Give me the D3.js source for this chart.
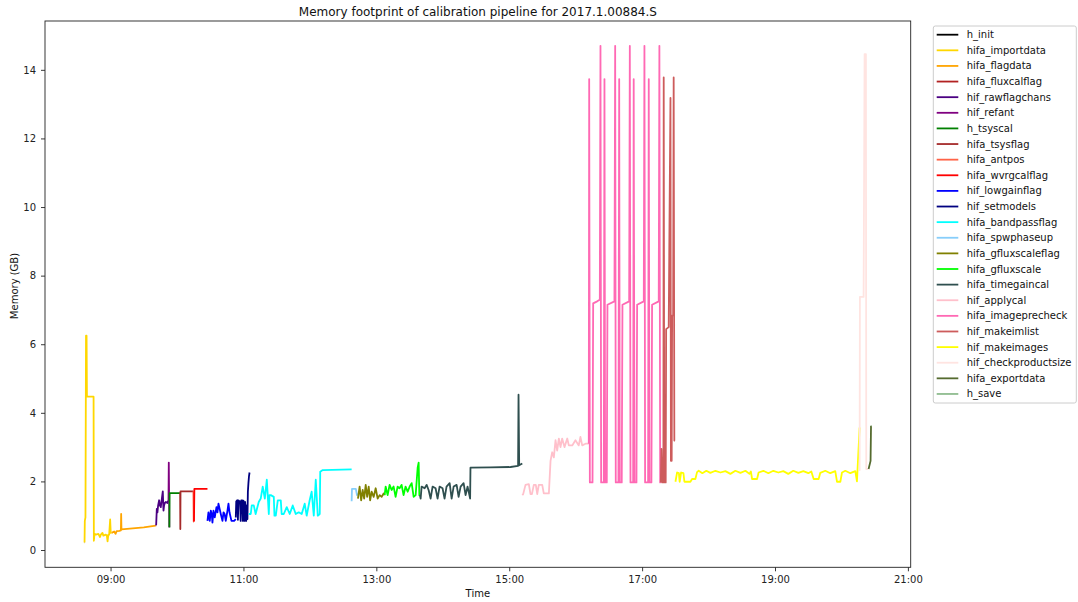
<!DOCTYPE html>
<html>
<head>
<meta charset="utf-8">
<script src="https://cdn.jsdelivr.net/npm/d3@7"></script>
<style>
  html, body { margin: 0; padding: 0; background: #fff; }
  svg { display: block; font-family: "DejaVu Sans", sans-serif; }
</style>
</head>
<body>
<svg id="chart" width="1078" height="602"></svg>
<script>
// Memory samples per pipeline stage: [time of day, memory in GB]
const h_init = [["08:36:20", 0.22], ["08:36:30", 0.22]];
const hifa_importdata = [
  ["08:36:30", 0.22], ["08:36:45", 0.85], ["08:37:20", 0.95], ["08:37:50", 6.25], ["08:38:20", 6.25],
  ["08:38:40", 4.47], ["08:44:40", 4.47], ["08:44:55", 0.27], ["08:45:30", 0.47], ["08:46:44", 0.45],
  ["08:49:00", 0.47], ["08:50:30", 0.38], ["08:51:15", 0.45], ["08:52:40", 0.5], ["08:53:30", 0.42],
  ["08:55:45", 0.45], ["08:56:40", 0.42], ["08:57:18", 0.25], ["08:58:00", 0.45], ["08:58:44", 0.45],
  ["08:59:38", 0.89], ["09:00:10", 0.5], ["09:01:00", 0.5]
];
const hifa_flagdata = [
  ["09:01:00", 0.5], ["09:03:15", 0.54], ["09:04:30", 0.47], ["09:05:30", 0.55], ["09:08:00", 0.56],
  ["09:09:20", 0.57], ["09:09:34", 1.05], ["09:09:50", 0.6], ["09:20:00", 0.63], ["09:30:00", 0.66],
  ["09:40:50", 0.71]
];
const hifa_fluxcalflag = [["09:40:50", 0.71], ["09:41:10", 0.72]];
const hif_rawflagchans = [
  ["09:41:10", 0.72], ["09:41:46", 1.2], ["09:42:20", 1.1], ["09:42:57", 1.3], ["09:43:52", 1.45],
  ["09:44:30", 1.3], ["09:45:22", 1.25], ["09:46:20", 1.5], ["09:47:10", 1.71], ["09:47:48", 1.15],
  ["09:48:20", 1.3], ["09:49:00", 1.37], ["09:50:00", 1.4], ["09:51:25", 1.37], ["09:52:19", 1.45]
];
const hif_refant = [["09:52:19", 1.45], ["09:52:35", 2.55], ["09:52:55", 1.4], ["09:53:05", 0.66]];
const h_tsyscal = [["09:53:05", 0.66], ["09:53:20", 1.66], ["10:02:50", 1.66]];
const hifa_tsysflag = [["10:02:50", 1.66], ["10:03:00", 0.61], ["10:03:10", 1.71], ["10:14:50", 1.71]];
const hifa_antpos = [["10:14:50", 1.71], ["10:15:05", 0.83], ["10:15:20", 0.83]];
const hifa_wvrgcalflag = [["10:15:20", 0.83], ["10:15:40", 1.78], ["10:27:30", 1.78]];
const hif_lowgainflag = [
  ["10:27:30", 0.85], ["10:28:24", 1.1], ["10:29:36", 0.85], ["10:30:30", 1.15], ["10:31:20", 1.05],
  ["10:32:00", 0.8], ["10:32:56", 1.15], ["10:34:06", 0.95], ["10:35:38", 1.25], ["10:36:32", 1.1],
  ["10:37:27", 1.35], ["10:38:30", 1.2], ["10:39:32", 1.05], ["10:41:03", 0.85], ["10:42:00", 1.1],
  ["10:43:00", 1.05], ["10:44:02", 0.85], ["10:45:34", 1.15], ["10:46:29", 1.35], ["10:47:23", 1.1],
  ["10:49:11", 0.85], ["10:51:35", 0.85], ["10:53:05", 0.9]
];
const hif_setmodels = [
  ["10:53:05", 0.95], ["10:53:30", 1.42], ["10:54:30", 1.45], ["10:55:00", 0.88], ["10:55:30", 1.45],
  ["10:57:00", 1.4], ["10:57:30", 0.85], ["10:58:00", 1.45], ["10:59:00", 1.45], ["10:59:30", 0.85],
  ["11:00:00", 1.44], ["11:01:00", 0.85], ["11:01:30", 1.4], ["11:02:30", 0.85], ["11:03:00", 1.3],
  ["11:03:36", 0.9], ["11:04:00", 1.7], ["11:04:30", 1.95], ["11:05:00", 2.15], ["11:05:30", 2.26]
];
const hifa_bandpassflag = [
  ["11:04:48", 1.05], ["11:06:36", 1.05], ["11:07:30", 1.3], ["11:09:18", 1.3], ["11:11:00", 1.05],
  ["11:13:48", 1.4], ["11:15:36", 1.5], ["11:17:24", 1.85], ["11:19:18", 1.5], ["11:21:06", 2.05],
  ["11:22:54", 1.05], ["11:23:30", 1.6], ["11:24:42", 1.6], ["11:27:24", 1.55], ["11:28:00", 1.0],
  ["11:29:12", 1.0], ["11:31:00", 1.45], ["11:33:42", 1.45], ["11:34:30", 1.05], ["11:36:24", 1.05],
  ["11:39:06", 1.25], ["11:41:48", 1.05], ["11:44:30", 1.3], ["11:47:12", 1.05], ["11:49:54", 1.1],
  ["11:52:36", 1.05], ["11:55:18", 1.35], ["11:57:06", 1.0], ["11:59:48", 1.45], ["12:01:36", 1.7],
  ["12:03:30", 1.0], ["12:05:18", 2.05], ["12:07:06", 1.0], ["12:08:54", 1.05], ["12:09:20", 2.28],
  ["12:11:36", 2.33], ["12:37:42", 2.35]
];
const hifa_spwphaseup = [
  ["12:37:42", 1.42], ["12:38:00", 1.78], ["12:41:30", 1.78], ["12:42:30", 1.6], ["12:43:24", 1.65]
];
const hifa_gfluxscaleflag = [
  ["12:43:24", 1.5], ["12:44:54", 1.85], ["12:46:18", 1.45], ["12:47:40", 1.75], ["12:49:00", 1.5],
  ["12:50:24", 1.9], ["12:51:42", 1.55], ["12:53:06", 1.85], ["12:54:24", 1.45], ["12:55:48", 1.7],
  ["12:57:36", 1.55], ["12:59:24", 1.8], ["13:01:12", 1.5], ["13:03:00", 1.6], ["13:04:48", 1.55],
  ["13:06:36", 1.65], ["13:07:30", 1.6]
];
const hifa_gfluxscale = [
  ["13:07:30", 1.6], ["13:08:24", 1.85], ["13:10:12", 1.6], ["13:12:00", 1.9], ["13:13:48", 1.75],
  ["13:15:36", 1.85], ["13:17:24", 1.55], ["13:19:12", 1.85], ["13:21:00", 1.8], ["13:22:48", 1.9],
  ["13:24:36", 1.6], ["13:26:24", 1.85], ["13:28:18", 1.7], ["13:30:06", 1.85], ["13:31:54", 1.95],
  ["13:33:42", 1.55], ["13:35:30", 1.6], ["13:37:18", 2.4], ["13:38:12", 2.55], ["13:38:50", 1.6],
  ["13:39:20", 1.6]
];
const hifa_timegaincal = [
  ["13:39:20", 1.6], ["13:40:00", 1.5], ["13:40:54", 1.85], ["13:43:36", 1.8], ["13:45:24", 1.9],
  ["13:47:12", 1.75], ["13:49:00", 1.5], ["13:50:48", 1.85], ["13:53:30", 1.8], ["13:55:18", 1.5],
  ["13:57:06", 1.85], ["13:59:48", 1.8], ["14:01:36", 1.5], ["14:03:24", 1.85], ["14:06:12", 1.95],
  ["14:08:00", 1.5], ["14:09:48", 1.85], ["14:12:30", 1.9], ["14:14:18", 1.55], ["14:16:06", 1.85],
  ["14:18:48", 1.95], ["14:20:36", 1.6], ["14:22:24", 1.85], ["14:24:42", 1.5], ["14:25:00", 2.4],
  ["14:43:06", 2.41], ["15:01:12", 2.42], ["15:08:00", 2.45], ["15:08:24", 4.53], ["15:09:00", 2.47],
  ["15:11:48", 2.52]
];
const hif_applycal = [
  ["15:11:48", 1.6], ["15:12:36", 1.63], ["15:14:42", 1.9], ["15:17:42", 1.92], ["15:19:12", 1.63],
  ["15:20:30", 1.63], ["15:22:12", 1.9], ["15:24:00", 1.9], ["15:25:18", 1.63], ["15:26:42", 1.9],
  ["15:29:48", 1.9], ["15:31:12", 1.65], ["15:35:48", 1.65], ["15:37:18", 2.6], ["15:38:48", 2.85],
  ["15:40:18", 2.7], ["15:41:48", 3.2], ["15:43:18", 2.9], ["15:44:48", 3.25], ["15:46:18", 3.0],
  ["15:47:48", 3.25], ["15:49:54", 3.0], ["15:52:24", 3.25], ["15:53:48", 3.05], ["15:56:54", 3.05],
  ["15:59:48", 3.2], ["16:02:48", 3.05], ["16:04:18", 3.3], ["16:05:54", 3.05], ["16:08:54", 3.1],
  ["16:11:50", 3.1]
];
const hifa_imageprecheck = [
  ["16:11:50", 3.1], ["16:12:12", 13.73], ["16:12:48", 1.97], ["16:15:12", 1.97], ["16:15:48", 7.19],
  ["16:19:24", 7.25], ["16:21:48", 7.3], ["16:22:24", 14.7], ["16:23:00", 1.97], ["16:25:24", 1.97],
  ["16:26:00", 13.73], ["16:26:36", 1.97], ["16:28:06", 1.97], ["16:28:42", 7.15], ["16:35:00", 7.25],
  ["16:35:40", 14.7], ["16:36:12", 1.97], ["16:38:36", 1.97], ["16:39:18", 13.73], ["16:39:48", 1.97],
  ["16:41:36", 1.97], ["16:42:15", 7.15], ["16:48:18", 7.25], ["16:48:54", 14.7], ["16:49:30", 1.97],
  ["16:51:54", 1.97], ["16:52:24", 13.73], ["16:53:06", 1.97], ["16:54:54", 1.97], ["16:55:30", 7.15],
  ["17:01:30", 7.25], ["17:02:06", 14.7], ["17:02:42", 1.97], ["17:05:24", 1.97], ["17:06:00", 13.73],
  ["17:06:36", 1.97], ["17:08:24", 1.97], ["17:09:00", 7.15], ["17:15:00", 7.25], ["17:15:36", 14.7],
  ["17:16:18", 1.97], ["17:16:54", 1.97]
];
const hif_makeimlist = [
  ["17:16:54", 1.97], ["17:17:24", 2.95], ["17:18:06", 1.97], ["17:19:12", 1.97], ["17:19:30", 13.78],
  ["17:20:00", 1.97], ["17:21:18", 1.97], ["17:21:42", 6.44], ["17:24:00", 6.5], ["17:25:36", 13.18],
  ["17:26:00", 2.6], ["17:26:42", 2.6], ["17:27:06", 6.83], ["17:28:00", 6.85], ["17:28:30", 13.78],
  ["17:29:06", 3.19], ["17:29:45", 3.19]
];
const hif_makeimages = [
  ["17:30:06", 1.99], ["17:31:36", 2.26], ["17:33:12", 2.24], ["17:33:54", 1.99], ["17:35:12", 2.26],
  ["17:37:18", 2.24], ["17:38:12", 1.99], ["17:43:36", 1.99], ["17:45:06", 2.07], ["17:48:06", 2.07],
  ["17:49:36", 2.27], ["17:51:06", 2.31], ["17:54:24", 2.24], ["17:58:00", 2.31], ["18:01:36", 2.25],
  ["18:06:12", 2.31], ["18:10:42", 2.26], ["18:15:12", 2.3], ["18:19:42", 2.22], ["18:24:12", 2.31],
  ["18:28:48", 2.25], ["18:33:18", 2.31], ["18:36:54", 2.22], ["18:38:12", 2.29], ["18:39:18", 2.07],
  ["18:43:48", 2.07], ["18:45:12", 2.26], ["18:49:30", 2.31], ["18:54:00", 2.24], ["18:58:30", 2.31],
  ["19:03:00", 2.26], ["19:07:30", 2.3], ["19:12:00", 2.22], ["19:16:30", 2.31], ["19:21:06", 2.25],
  ["19:25:36", 2.3], ["19:30:06", 2.24], ["19:32:48", 2.29], ["19:34:54", 2.07], ["19:39:24", 2.07],
  ["19:40:54", 2.25], ["19:45:24", 2.31], ["19:49:54", 2.24], ["19:54:24", 2.3], ["19:56:00", 1.99],
  ["19:59:00", 1.99], ["20:00:30", 2.26], ["20:03:30", 2.31], ["20:08:00", 2.24], ["20:12:30", 2.3],
  ["20:14:00", 2.0], ["20:14:36", 2.4], ["20:16:24", 3.57]
];
const hif_checkproductsize = [
  ["20:16:24", 2.31], ["20:16:40", 7.38], ["20:20:00", 7.38], ["20:20:54", 14.46], ["20:22:06", 14.46],
  ["20:22:24", 2.36], ["20:24:30", 2.36]
];
const hifa_exportdata = [["20:24:30", 2.36], ["20:26:18", 2.6], ["20:26:42", 3.62]];
const h_save = [["20:26:42", 3.62], ["20:27:00", 3.62]];

// Stage names in execution order, with their line colours
const stageNames = [
  "h_init", "hifa_importdata", "hifa_flagdata", "hifa_fluxcalflag", "hif_rawflagchans", "hif_refant",
  "h_tsyscal", "hifa_tsysflag", "hifa_antpos", "hifa_wvrgcalflag", "hif_lowgainflag", "hif_setmodels",
  "hifa_bandpassflag", "hifa_spwphaseup", "hifa_gfluxscaleflag", "hifa_gfluxscale", "hifa_timegaincal",
  "hif_applycal", "hifa_imageprecheck", "hif_makeimlist", "hif_makeimages", "hif_checkproductsize",
  "hifa_exportdata", "h_save"
];
const stageColors = [
  "#000000", "#ffd700", "#ffa500", "#b22222", "#4b0082", "#800080",
  "#008000", "#a52a2a", "#ff6347", "#ff0000", "#0000ff", "#000080",
  "#00ffff", "#87cefa", "#808000", "#00ff00", "#2f4f4f",
  "#ffc0cb", "#ff69b4", "#cd5c5c", "#ffff00", "#ffe4e1",
  "#556b2f", "#8fbc8f"
];
const stageSamples = [
  h_init, hifa_importdata, hifa_flagdata, hifa_fluxcalflag, hif_rawflagchans, hif_refant,
  h_tsyscal, hifa_tsysflag, hifa_antpos, hifa_wvrgcalflag, hif_lowgainflag, hif_setmodels,
  hifa_bandpassflag, hifa_spwphaseup, hifa_gfluxscaleflag, hifa_gfluxscale, hifa_timegaincal,
  hif_applycal, hifa_imageprecheck, hif_makeimlist, hif_makeimages, hif_checkproductsize,
  hifa_exportdata, h_save
];

const xTickLabels = ["09:00", "11:00", "13:00", "15:00", "17:00", "19:00", "21:00"];
const yTickValues = [0, 2, 4, 6, 8, 10, 12, 14];

const chartTitle = "Memory footprint of calibration pipeline for 2017.1.00884.S";
const xLabel = "Time";
const yLabel = "Memory (GB)";

// ---- layout ----
const svg = d3.select("#chart");
const plot = { left: 45, top: 21, right: 910.7, bottom: 567.3 };

const parseT = d3.timeParse("%H:%M:%S");
const parseTick = d3.timeParse("%H:%M");

const series = stageNames.map((name, i) => ({
  name,
  color: stageColors[i],
  values: stageSamples[i].map(([t, v]) => ({ t: parseT(t), v }))
}));

// matplotlib-like 5% padding on both axes
const allPts = series.flatMap(s => s.values);
const [tMin, tMax] = d3.extent(allPts, d => d.t);
const [vMin, vMax] = d3.extent(allPts, d => d.v);
const tPad = (tMax - tMin) * 0.05;
const vPad = (vMax - vMin) * 0.05;

const x = d3.scaleTime()
  .domain([new Date(+tMin - tPad), new Date(+tMax + tPad)])
  .range([plot.left, plot.right]);
const y = d3.scaleLinear()
  .domain([vMin - vPad, vMax + vPad])
  .range([plot.bottom, plot.top]);

svg.append("defs").append("clipPath").attr("id", "plotClip")
  .append("rect")
  .attr("x", plot.left).attr("y", plot.top)
  .attr("width", plot.right - plot.left).attr("height", plot.bottom - plot.top);

// ---- lines ----
const line = d3.line().x(d => x(d.t)).y(d => y(d.v));
svg.append("g").attr("clip-path", "url(#plotClip)")
  .selectAll("path")
  .data(series)
  .join("path")
  .attr("d", d => line(d.values))
  .attr("fill", "none")
  .attr("stroke", d => d.color)
  .attr("stroke-width", 1.8)
  .attr("stroke-linejoin", "round")
  .attr("stroke-linecap", "butt");

// ---- axes ----
const axisColor = "#222";
const xAxis = d3.axisBottom(x)
  .tickValues(xTickLabels.map(parseTick))
  .tickFormat(d3.timeFormat("%H:%M"))
  .tickSizeOuter(0).tickSizeInner(4).tickPadding(5);
const yAxis = d3.axisLeft(y)
  .tickValues(yTickValues)
  .tickFormat(d3.format("d"))
  .tickSizeOuter(0).tickSizeInner(4).tickPadding(5);

const gx = svg.append("g").attr("transform", `translate(0,${plot.bottom})`).call(xAxis);
const gy = svg.append("g").attr("transform", `translate(${plot.left},0)`).call(yAxis);
[gx, gy].forEach(g => {
  g.select(".domain").remove();
  g.selectAll(".tick line").attr("stroke", axisColor).attr("stroke-width", 0.9);
  g.selectAll(".tick text").attr("fill", axisColor)
    .style("font-family", "DejaVu Sans, sans-serif").style("font-size", "10px");
});

// frame around the plot
svg.append("rect")
  .attr("x", plot.left).attr("y", plot.top)
  .attr("width", plot.right - plot.left).attr("height", plot.bottom - plot.top)
  .attr("fill", "none").attr("stroke", axisColor).attr("stroke-width", 0.9);

// ---- titles ----
const midX = (plot.left + plot.right) / 2;
svg.append("text")
  .attr("x", midX).attr("y", 15.5)
  .attr("text-anchor", "middle")
  .style("font-size", "12px").attr("fill", "#111")
  .text(chartTitle);
svg.append("text")
  .attr("x", midX).attr("y", 597)
  .attr("text-anchor", "middle")
  .style("font-size", "10px").attr("fill", "#111")
  .text(xLabel);
svg.append("text")
  .attr("transform", `translate(18,286) rotate(-90)`)
  .attr("text-anchor", "middle")
  .style("font-size", "10px").attr("fill", "#111")
  .text(yLabel);

// ---- legend ----
const legend = { x: 933.3, y: 26, w: 143, h: 377, rowH: 15.62, firstY: 34.7 };
const lg = svg.append("g");
lg.append("rect")
  .attr("x", legend.x).attr("y", legend.y)
  .attr("width", legend.w).attr("height", legend.h)
  .attr("rx", 2).attr("ry", 2)
  .attr("fill", "#fff").attr("fill-opacity", 0.8)
  .attr("stroke", "#cccccc").attr("stroke-width", 1);
const items = lg.selectAll("g.item").data(series).join("g")
  .attr("class", "item")
  .attr("transform", (d, i) => `translate(0,${legend.firstY + i * legend.rowH})`);
items.append("line")
  .attr("x1", 936.7).attr("x2", 958.3)
  .attr("y1", 0).attr("y2", 0)
  .attr("stroke", d => d.color).attr("stroke-width", 1.8);
items.append("text")
  .attr("x", 966.7).attr("y", 0).attr("dy", "0.35em")
  .style("font-size", "10px").attr("fill", "#111")
  .text(d => d.name);
</script>
</body>
</html>
